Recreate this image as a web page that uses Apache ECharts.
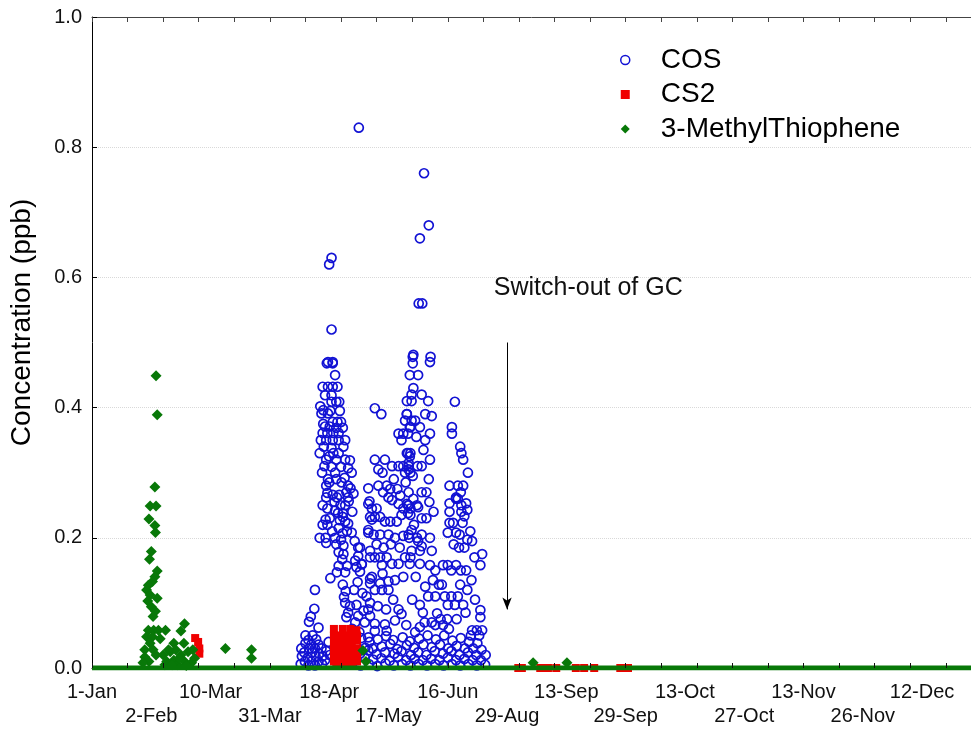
<!DOCTYPE html>
<html>
<head>
<meta charset="utf-8">
<script src="https://cdn.jsdelivr.net/npm/echarts@6/dist/echarts.min.js"></script>
<style>
  html, body { margin: 0; padding: 0; background: #fff; }
  #chart { width: 971px; height: 729px; }
</style>
</head>
<body>
<div id="chart"></div>
<script>
// x is the running sample number; a date label is printed every 10 samples
const xLabels = ['1-Jan', '2-Feb', '10-Mar', '31-Mar', '18-Apr', '17-May', '16-Jun',
  '29-Aug', '13-Sep', '29-Sep', '13-Oct', '27-Oct', '13-Nov', '26-Nov', '12-Dec'];
const xMax = 148.25;
const labelStep = 10;
const tickStep = 6;
const yMax = 1.0;
const yStep = 0.2;

// COS (ppb) – [sample, concentration]
const cosData = [
  // isolated high readings
  [45.0,0.83],[56.0,0.76],[56.8,0.68],[55.3,0.66],[40.4,0.63],[40.0,0.62],[55.1,0.56],[55.7,0.56],[40.4,0.52],
  [54.1,0.478],[54.1,0.468],[57.1,0.478],[39.6,0.468],[40.6,0.468],
  // April episode
  [39.8,0.47],[40.6,0.47],[41.0,0.45],
  [38.9,0.432],[39.8,0.432],[40.6,0.432],[41.4,0.432],[39.3,0.419],[40.4,0.419],
  [40.4,0.409],[41.2,0.409],[41.7,0.409],[38.5,0.402],[39.0,0.396],[38.7,0.391],[39.8,0.391],
  [40.6,0.378],[41.4,0.378],[42.0,0.378],[39.3,0.371],[40.1,0.371],[41.2,0.369],[42.3,0.369],
  [38.9,0.361],[39.7,0.361],[40.7,0.361],[41.6,0.361],
  [38.6,0.35],[39.5,0.35],[40.6,0.35],[41.6,0.35],[42.7,0.35],[39.1,0.34],[40.4,0.338],
  [40.7,0.33],[41.6,0.33],[39.5,0.32],[41.2,0.32],[42.7,0.32],[43.5,0.319],
  [40.4,0.309],[42.0,0.309],[43.2,0.307],[41.0,0.30],[43.8,0.30],[39.8,0.29],[41.2,0.29],[42.6,0.292],[43.2,0.28],
  [39.5,0.28],[40.6,0.266],[41.7,0.266],[39.5,0.262],[43.6,0.276],[44.1,0.268],
  [39.7,0.269],[41.3,0.262],[38.9,0.25],[39.7,0.245],[43.2,0.262],[42.7,0.25],[42.3,0.238],[43.3,0.256],[43.9,0.24],
  [41.5,0.238],[42.3,0.232],[39.4,0.228],[38.9,0.22],[39.7,0.22],
  [41.8,0.227],[42.7,0.225],[43.2,0.222],[41.6,0.215],[43.0,0.21],[42.3,0.207],[43.8,0.208],
  [38.4,0.2],[39.4,0.2],[41.0,0.2],[42.0,0.197],[41.2,0.19],[42.4,0.188],[44.3,0.195],[44.9,0.185],
  [39.5,0.192],[41.6,0.178],[42.4,0.175],[42.2,0.167],[41.6,0.157],[43.0,0.157],[41.3,0.147],[42.7,0.147],
  [44.4,0.165],[44.6,0.155],[45.5,0.159],[45.2,0.148],
  [40.2,0.138],[42.3,0.128],[42.8,0.118],[42.5,0.109],[44.2,0.12],[44.8,0.132],[45.6,0.115],
  [37.6,0.12],[42.7,0.10],[43.5,0.095],[43.2,0.085],[42.9,0.078],[44.6,0.097],[45.8,0.088],
  [36.6,0.071],[36.9,0.079],[37.5,0.091],[38.2,0.062],[43.9,0.06],[44.4,0.07],[45.1,0.055],
  [39.2,0.31],[40.0,0.285],[38.8,0.3],[40.9,0.255],[42.1,0.285],[40.1,0.23],[41.0,0.242],[40.5,0.21],
  [39.0,0.375],[40.2,0.395],[41.8,0.395],[42.4,0.34],[40.0,0.325],[38.4,0.33],[41.9,0.25],[42.9,0.27],
  // low readings, early April
  [35.2,0.006],[35.4,0.018],[35.3,0.03],[35.9,0.01],[35.8,0.024],[36.0,0.038],[36.0,0.05],
  [36.5,0.004],[36.4,0.016],[36.6,0.03],[36.5,0.043],[37.0,0.01],[37.1,0.024],[37.0,0.036],[37.2,0.05],
  [37.6,0.004],[37.7,0.018],[37.6,0.03],[37.8,0.044],[38.2,0.01],[38.3,0.022],[38.2,0.036],
  [38.8,0.006],[38.9,0.018],[38.7,0.03],[39.3,0.012],[39.5,0.026],[39.9,0.04],[40.1,0.02],
  // May
  [46.6,0.276],[46.8,0.256],[47.2,0.228],[46.6,0.208],[46.9,0.18],[46.9,0.137],[46.9,0.08],[47.7,0.068],
  [47.7,0.399],[48.8,0.39],
  [53.1,0.41],[53.1,0.39],[53.9,0.38],[52.8,0.38],[53.7,0.37],[51.7,0.36],[52.5,0.36],[52.2,0.35],
  [53.7,0.33],[53.1,0.33],
  [47.7,0.32],[49.4,0.32],[50.6,0.31],[51.7,0.31],[52.5,0.31],[53.4,0.31],[48.3,0.305],[52.8,0.30],[53.7,0.30],
  [48.3,0.28],[49.7,0.28],[50.3,0.275],[49.1,0.27],[50.0,0.262],[46.6,0.252],[47.2,0.245],[48.0,0.245],
  [50.6,0.258],[51.7,0.252],[53.1,0.252],[52.5,0.245],[53.7,0.245],
  [46.9,0.232],[47.7,0.232],[48.6,0.232],[49.4,0.225],[50.3,0.225],[51.4,0.225],[52.2,0.235],[53.7,0.235],
  [46.6,0.212],[47.5,0.205],[48.6,0.205],[50.0,0.205],[51.1,0.2],[52.5,0.203],[53.4,0.205],[53.9,0.212],
  [45.2,0.185],[44.9,0.172],[45.5,0.16],[46.9,0.17],[47.7,0.17],[48.6,0.17],[49.7,0.17],[50.6,0.16],
  [51.7,0.16],[52.8,0.17],[53.7,0.17],[52.5,0.14],[48.9,0.158],
  [47.2,0.14],[46.9,0.13],[47.7,0.12],[48.9,0.12],[50.0,0.12],[48.6,0.13],[50.0,0.133],[51.1,0.135],
  [46.3,0.11],[46.9,0.1],[46.6,0.09],[44.9,0.08],[46.0,0.07],[51.7,0.09],[52.2,0.083],[51.1,0.073],
  [49.4,0.067],[49.7,0.057],[47.7,0.057],[46.6,0.047],
  [48.0,0.19],[49.2,0.185],[50.4,0.19],[51.9,0.185],[49.0,0.145],[50.8,0.105],[48.2,0.095],[49.6,0.09],
  [50.9,0.29],[51.5,0.275],[49.0,0.3],[52.9,0.285],[52.0,0.265],
  // June episode
  [54.2,0.481],[57.0,0.47],[53.6,0.45],[55.0,0.45],
  [54.2,0.43],[53.9,0.42],[55.6,0.42],[53.9,0.41],[56.7,0.41],[61.2,0.409],
  [53.1,0.39],[54.5,0.38],[56.2,0.39],[57.3,0.387],[53.6,0.37],[55.3,0.37],[53.3,0.36],[56.2,0.35],[57.0,0.36],
  [60.7,0.37],[60.7,0.36],[62.1,0.34],[62.3,0.33],[62.6,0.32],[63.4,0.30],
  [53.3,0.33],[53.6,0.325],[53.4,0.315],[53.4,0.305],[54.1,0.295],[55.6,0.31],[57.0,0.32],
  [53.4,0.27],[55.6,0.27],[56.4,0.27],[53.4,0.25],[54.8,0.25],
  [60.3,0.28],[61.7,0.28],[62.6,0.28],[61.7,0.26],[62.3,0.25],[61.4,0.262],[60.3,0.24],[62.3,0.24],
  [55.0,0.247],[53.3,0.238],[53.3,0.25],[55.6,0.23],[56.4,0.23],
  [54.3,0.22],[53.5,0.2],[54.8,0.2],[55.6,0.205],[57.0,0.2],[55.0,0.195],[55.6,0.187],
  [53.9,0.18],[55.3,0.18],[57.3,0.18],[53.6,0.16],[55.3,0.16],
  [60.3,0.253],[61.4,0.26],[62.2,0.27],[63.1,0.253],[63.3,0.243],[62.8,0.233],[62.5,0.223],[60.3,0.223],
  [60.9,0.223],[60.0,0.208],[61.4,0.208],[63.3,0.197],[64.1,0.195],[65.8,0.175],[61.9,0.185],[62.8,0.185],
  [57.0,0.158],[57.9,0.15],[59.2,0.158],[60.0,0.158],[60.6,0.15],[61.4,0.158],[62.2,0.15],[63.1,0.15],
  [65.5,0.158],
  [58.5,0.128],[59.0,0.128],[62.1,0.128],[63.3,0.12],
  [56.7,0.11],[57.9,0.11],[59.5,0.11],[60.6,0.11],[61.7,0.11],[55.3,0.097],[60.0,0.097],[61.2,0.097],[62.6,0.097],
  [65.5,0.089],[65.5,0.078],
  [58.2,0.084],[58.8,0.075],[59.9,0.075],[57.9,0.066],[59.2,0.066],[53.0,0.066],[55.3,0.063],[56.1,0.07],[57.3,0.07],
  [64.1,0.058],[64.9,0.058],[65.8,0.058],[63.9,0.05],[65.3,0.05],
  [54.7,0.355],[55.9,0.335],[54.9,0.31],[56.8,0.29],[54.2,0.26],[56.9,0.255],[57.6,0.24],[54.6,0.14],
  [56.2,0.125],[57.5,0.135],[54.0,0.105],[55.8,0.085],[61.0,0.19],[62.0,0.205],[63.8,0.21],[64.5,0.17],
  [63.0,0.085],[61.5,0.075],[64.6,0.105],[64.0,0.135],[60.2,0.06],
  // near-zero readings, May–June
  [44.6,0.012],[44.5,0.035],[45.3,0.004],[45.2,0.022],[45.4,0.046],[46.0,0.016],[46.1,0.031],
  [46.7,0.006],[46.6,0.027],[46.8,0.04],[47.4,0.013],[47.3,0.03],[48.1,0.003],[48.0,0.021],[48.2,0.044],
  [48.8,0.015],[48.9,0.033],[49.5,0.007],[49.4,0.024],[49.6,0.049],[50.2,0.011],[50.3,0.037],
  [50.9,0.004],[51.0,0.022],[50.8,0.043],[51.6,0.017],[51.5,0.029],[52.3,0.006],[52.2,0.026],[52.4,0.047],
  [53.0,0.012],[53.1,0.035],[53.7,0.004],[53.8,0.02],[53.6,0.041],[54.4,0.014],[54.3,0.031],[54.5,0.055],
  [55.1,0.006],[55.0,0.024],[55.2,0.045],[55.8,0.012],[55.9,0.036],[56.5,0.004],[56.4,0.02],[56.6,0.05],
  [57.2,0.014],[57.3,0.032],[57.9,0.006],[57.8,0.026],[58.0,0.044],[58.6,0.012],[58.7,0.036],
  [59.3,0.004],[59.2,0.022],[59.4,0.05],[60.0,0.016],[60.1,0.03],[60.7,0.006],[60.6,0.026],[60.8,0.042],
  [61.4,0.012],[61.5,0.034],[62.1,0.004],[62.0,0.02],[62.2,0.046],[62.8,0.014],[62.9,0.03],
  [63.5,0.006],[63.4,0.024],[63.6,0.04],[64.2,0.012],[64.3,0.03],[64.9,0.004],[64.8,0.02],[65.0,0.038],
  [65.6,0.012],[65.7,0.028],[66.3,0.005],[66.4,0.02]
];

// CS2 (ppb)
const cs2Data = [
  [17.4,0.046],[17.9,0.04],[18.1,0.03],[18.1,0.022],
  [40.8,0.06],[42.3,0.06],[43.6,0.06],[44.6,0.058],
  [40.8,0.05],[41.8,0.05],[42.8,0.05],[43.8,0.05],[44.7,0.05],
  [40.8,0.04],[41.8,0.04],[42.8,0.04],[43.8,0.04],[44.7,0.042],
  [40.8,0.03],[41.8,0.03],[42.8,0.03],[43.8,0.03],[44.7,0.03],
  [40.8,0.02],[41.8,0.02],[42.8,0.02],[43.8,0.02],[44.7,0.02],
  [40.8,0.01],[41.8,0.01],[42.8,0.01],[43.8,0.01],[44.7,0.01],
  [41.2,0.004],[42.5,0.004],[43.8,0.004],
  [71.9,0],[72.5,0],[75.6,0],[76.9,0],[78.3,0],
  [81.6,0],[83.0,0],[84.7,0],[89.1,0],[90.4,0]
];

// 3-MethylThiophene (ppb), non-zero readings
const mtData = [
  [10.8,0.449],[11.0,0.389],[10.6,0.278],[9.8,0.249],[10.8,0.249],[9.6,0.229],[10.6,0.219],[10.7,0.208],
  [10.0,0.179],[9.7,0.167],[11.0,0.149],[10.6,0.14],[10.2,0.133],[9.5,0.127],[9.2,0.12],[9.8,0.112],
  [9.4,0.103],[11.0,0.107],[10.0,0.094],[10.7,0.087],[10.3,0.079],
  [9.5,0.058],[10.4,0.058],[11.2,0.058],[12.4,0.058],[9.2,0.048],[10.2,0.048],[11.5,0.045],[9.8,0.038],
  [8.9,0.028],[10.3,0.028],[8.9,0.017],[9.6,0.01],[8.6,0.008],[10.8,0.02],
  [15.6,0.068],[15.0,0.057],[13.8,0.038],[15.5,0.038],
  [12.0,0.02],[12.6,0.01],[13.2,0.025],[13.8,0.012],[14.4,0.005],[15.0,0.02],[15.6,0.01],[16.2,0.025],
  [16.8,0.008],[17.3,0.015],[12.3,0.005],[13.5,0.005],[14.7,0.015],[15.9,0.004],[17.0,0.028],[14.1,0.028],[12.9,0.028],
  [22.5,0.03],[26.9,0.028],[26.9,0.015],
  [45.7,0.027],[46.2,0.01],
  [74.4,0.008],[80.1,0.008]
];

// 3-MethylThiophene zero readings cover the whole record
const mtZeroSpan = [[0, 0], [xMax, 0]];

// GC switch-out marker
const switchOutSample = 70;
const arrowTop = 0.5;
const arrowBottom = 0.09;
const noteText = 'Switch-out of GC';
const notePos = [83.7, 0.584];

const BLUE = '#1212d4';
const RED = '#f00000';
const GREEN = '#087808';
const FONT = 'Liberation Sans, Arial, sans-serif';

const chart = echarts.init(document.getElementById('chart'), null, { renderer: 'canvas' });

chart.setOption({
  backgroundColor: '#fff',
  animation: false,
  grid: { left: 92, top: 17, right: 0, bottom: 61, containLabel: false },
  legend: {
    orient: 'vertical',
    left: 620,
    top: 46,
    padding: 0,
    itemWidth: 9,
    itemHeight: 9,
    itemGap: 6.5,
    textStyle: { fontFamily: FONT, fontSize: 28, color: '#000', lineHeight: 28, padding: [0, 0, 0, 26] },
    data: [
      { name: 'COS', icon: 'circle', itemStyle: { color: 'rgba(0,0,0,0)', borderColor: BLUE, borderWidth: 1.5 } },
      { name: 'CS2', icon: 'rect', itemStyle: { color: RED } },
      { name: '3-MethylThiophene', icon: 'diamond', itemStyle: { color: GREEN } }
    ]
  },
  xAxis: [
    {
      type: 'value', min: 0, max: xMax, interval: labelStep, position: 'bottom',
      axisLine: { show: true, lineStyle: { color: '#000', width: 1 } },
      axisTick: { show: false },
      splitLine: { show: false },
      axisLabel: {
        margin: 12, fontFamily: FONT, fontSize: 20, color: '#111', lineHeight: 24,
        showMaxLabel: false, showMinLabel: true,
        formatter: function (v) {
          const i = Math.round(v / labelStep);
          if (Math.abs(v - i * labelStep) > 1e-6 || i >= xLabels.length) return '';
          return i % 2 === 1 ? '\n' + xLabels[i] : xLabels[i];
        }
      }
    },
    {
      type: 'value', min: 0, max: xMax, interval: tickStep, position: 'bottom', z: 10,
      axisLine: { show: false },
      axisTick: { show: true, inside: true, length: 5, lineStyle: { color: '#111' } },
      axisLabel: { show: false },
      splitLine: { show: false }
    },
    {
      type: 'value', min: 0, max: xMax, interval: tickStep, position: 'top',
      axisLine: { show: true, lineStyle: { color: '#444', width: 1 } },
      axisTick: { show: true, inside: true, length: 5, lineStyle: { color: '#444' } },
      axisLabel: { show: false },
      splitLine: { show: false }
    }
  ],
  yAxis: [{
    type: 'value', min: 0, max: yMax, interval: yStep,
    name: 'Concentration (ppb)', nameLocation: 'middle', nameGap: 56,
    nameTextStyle: { fontFamily: FONT, fontSize: 28, color: '#000', padding: [0, 0, 0, 40] },
    axisLine: { show: true, lineStyle: { color: '#000', width: 1 } },
    axisTick: { show: true, inside: true, length: 5, lineStyle: { color: '#000' } },
    axisLabel: {
      margin: 10, fontFamily: FONT, fontSize: 20, color: '#111',
      formatter: v => v.toFixed(1)
    },
    splitLine: { show: true, lineStyle: { color: '#d9d9d9', type: 'dotted', width: 1 } }
  }],
  series: [
    {
      name: 'COS', type: 'scatter', xAxisIndex: 0, data: cosData,
      symbol: 'circle', symbolSize: 9,
      itemStyle: { color: 'rgba(0,0,0,0)', borderColor: BLUE, borderWidth: 1.7, opacity: 1 },
      z: 2,
      markLine: {
        silent: true, symbol: ['none', 'arrow'], symbolSize: [7, 12],
        lineStyle: { color: '#000', width: 1, type: 'solid' },
        label: { show: false },
        data: [[{ coord: [switchOutSample, arrowTop] }, { coord: [switchOutSample, arrowBottom] }]]
      },
      markPoint: {
        silent: true, symbol: 'circle', symbolSize: 0,
        label: { show: true, position: 'inside', formatter: noteText, fontFamily: FONT, fontSize: 25, color: '#111' },
        data: [{ coord: notePos }]
      }
    },
    {
      name: 'CS2', type: 'scatter', xAxisIndex: 0, data: cs2Data,
      symbol: 'rect', symbolSize: 8,
      itemStyle: { color: RED, opacity: 1 }, z: 3
    },
    {
      name: '3-MethylThiophene', type: 'scatter', xAxisIndex: 0, data: mtData,
      symbol: 'diamond', symbolSize: 11,
      itemStyle: { color: GREEN, opacity: 1 }, z: 4
    },
    {
      name: '3-MethylThiophene', type: 'line', xAxisIndex: 0, data: mtZeroSpan,
      showSymbol: false, symbol: 'none',
      lineStyle: { color: GREEN, width: 5 }, itemStyle: { color: GREEN }, z: 5
    }
  ]
});
</script>
</body>
</html>
